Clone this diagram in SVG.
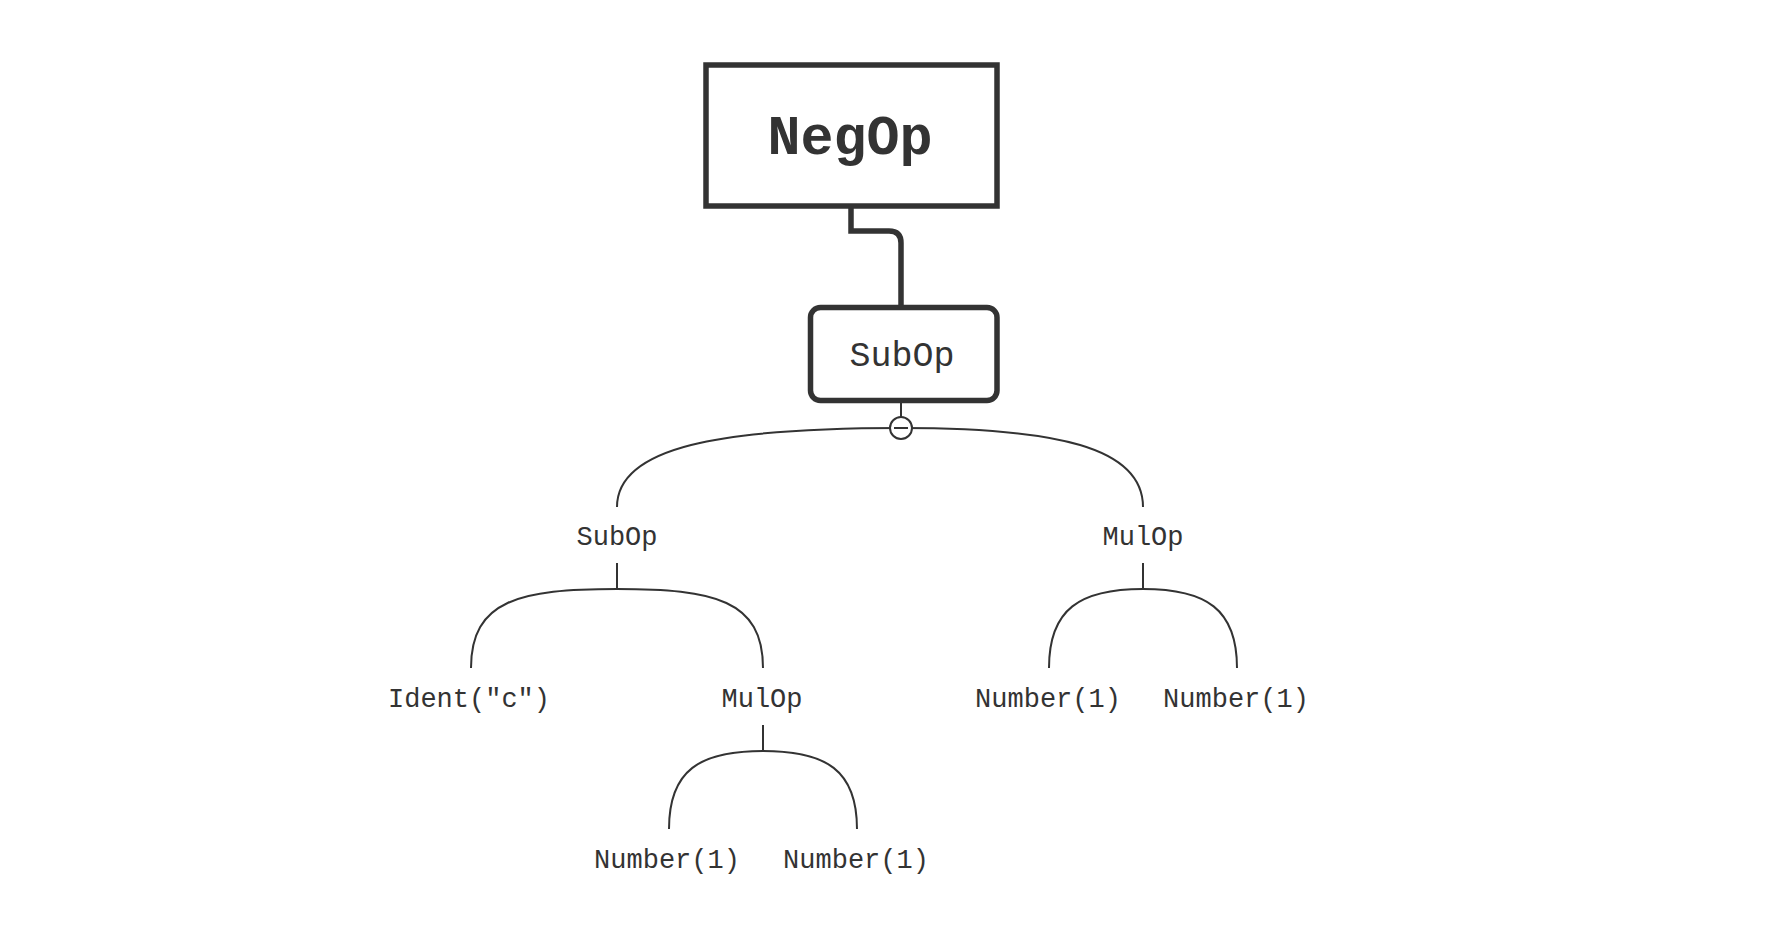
<svg xmlns="http://www.w3.org/2000/svg" width="1772" height="938" viewBox="0 0 1772 938">
<style>
.lbl{font-family:"Liberation Mono","Courier New",monospace;fill:#333;text-anchor:middle}
.small{font-size:27px}
.edge{fill:none;stroke:#333;stroke-width:2}
.thick{fill:none;stroke:#333;stroke-width:5.5}
</style>
<rect width="1772" height="938" fill="#fff"/>
<g id="connectors">
<path class="thick" d="M851 208 V231 H889 Q901 231 901 243 V305"/>
<path class="edge" d="M901 402 V428"/>
<path class="edge" d="M617 507 C617 447 720 428 901 428"/>
<path class="edge" d="M1143 507 C1143 447 1056 428 901 428"/>
<path class="edge" d="M617 563 V589"/>
<path class="edge" d="M471 668 C471 600 520 589 617 589"/>
<path class="edge" d="M763 668 C763 600 714 589 617 589"/>
<path class="edge" d="M1143 563 V589"/>
<path class="edge" d="M1049 668 C1049 609 1080 589 1143 589"/>
<path class="edge" d="M1237 668 C1237 609 1206 589 1143 589"/>
<path class="edge" d="M763 725 V751"/>
<path class="edge" d="M669 829 C669 770 700 751 763 751"/>
<path class="edge" d="M857 829 C857 770 826 751 763 751"/>
<circle cx="901" cy="428" r="11" fill="#fff" stroke="#333" stroke-width="2"/>
<path class="edge" d="M894 428 H908"/>
</g>
<g id="negop">
<rect x="706" y="65" width="291" height="141" fill="#fff" stroke="#333" stroke-width="5.5"/>
<text class="lbl" x="850" y="154" font-size="55" font-weight="bold">NegOp</text>
</g>
<g id="subop-root">
<rect x="810.5" y="307.5" width="186.5" height="93" rx="10" fill="#fff" stroke="#333" stroke-width="5.5"/>
<text class="lbl" x="902" y="366" font-size="35">SubOp</text>
</g>
<g id="subop-left"><text class="lbl small" x="617" y="545">SubOp</text></g>
<g id="mulop-right"><text class="lbl small" x="1143" y="545">MulOp</text></g>
<g id="ident-c"><text class="lbl small" x="469" y="707">Ident("c")</text></g>
<g id="mulop-lower"><text class="lbl small" x="762" y="707">MulOp</text></g>
<g id="number-r1"><text class="lbl small" x="1048" y="707">Number(1)</text></g>
<g id="number-r2"><text class="lbl small" x="1236" y="707">Number(1)</text></g>
<g id="number-l1"><text class="lbl small" x="667" y="868">Number(1)</text></g>
<g id="number-l2"><text class="lbl small" x="856" y="868">Number(1)</text></g>
</svg>
